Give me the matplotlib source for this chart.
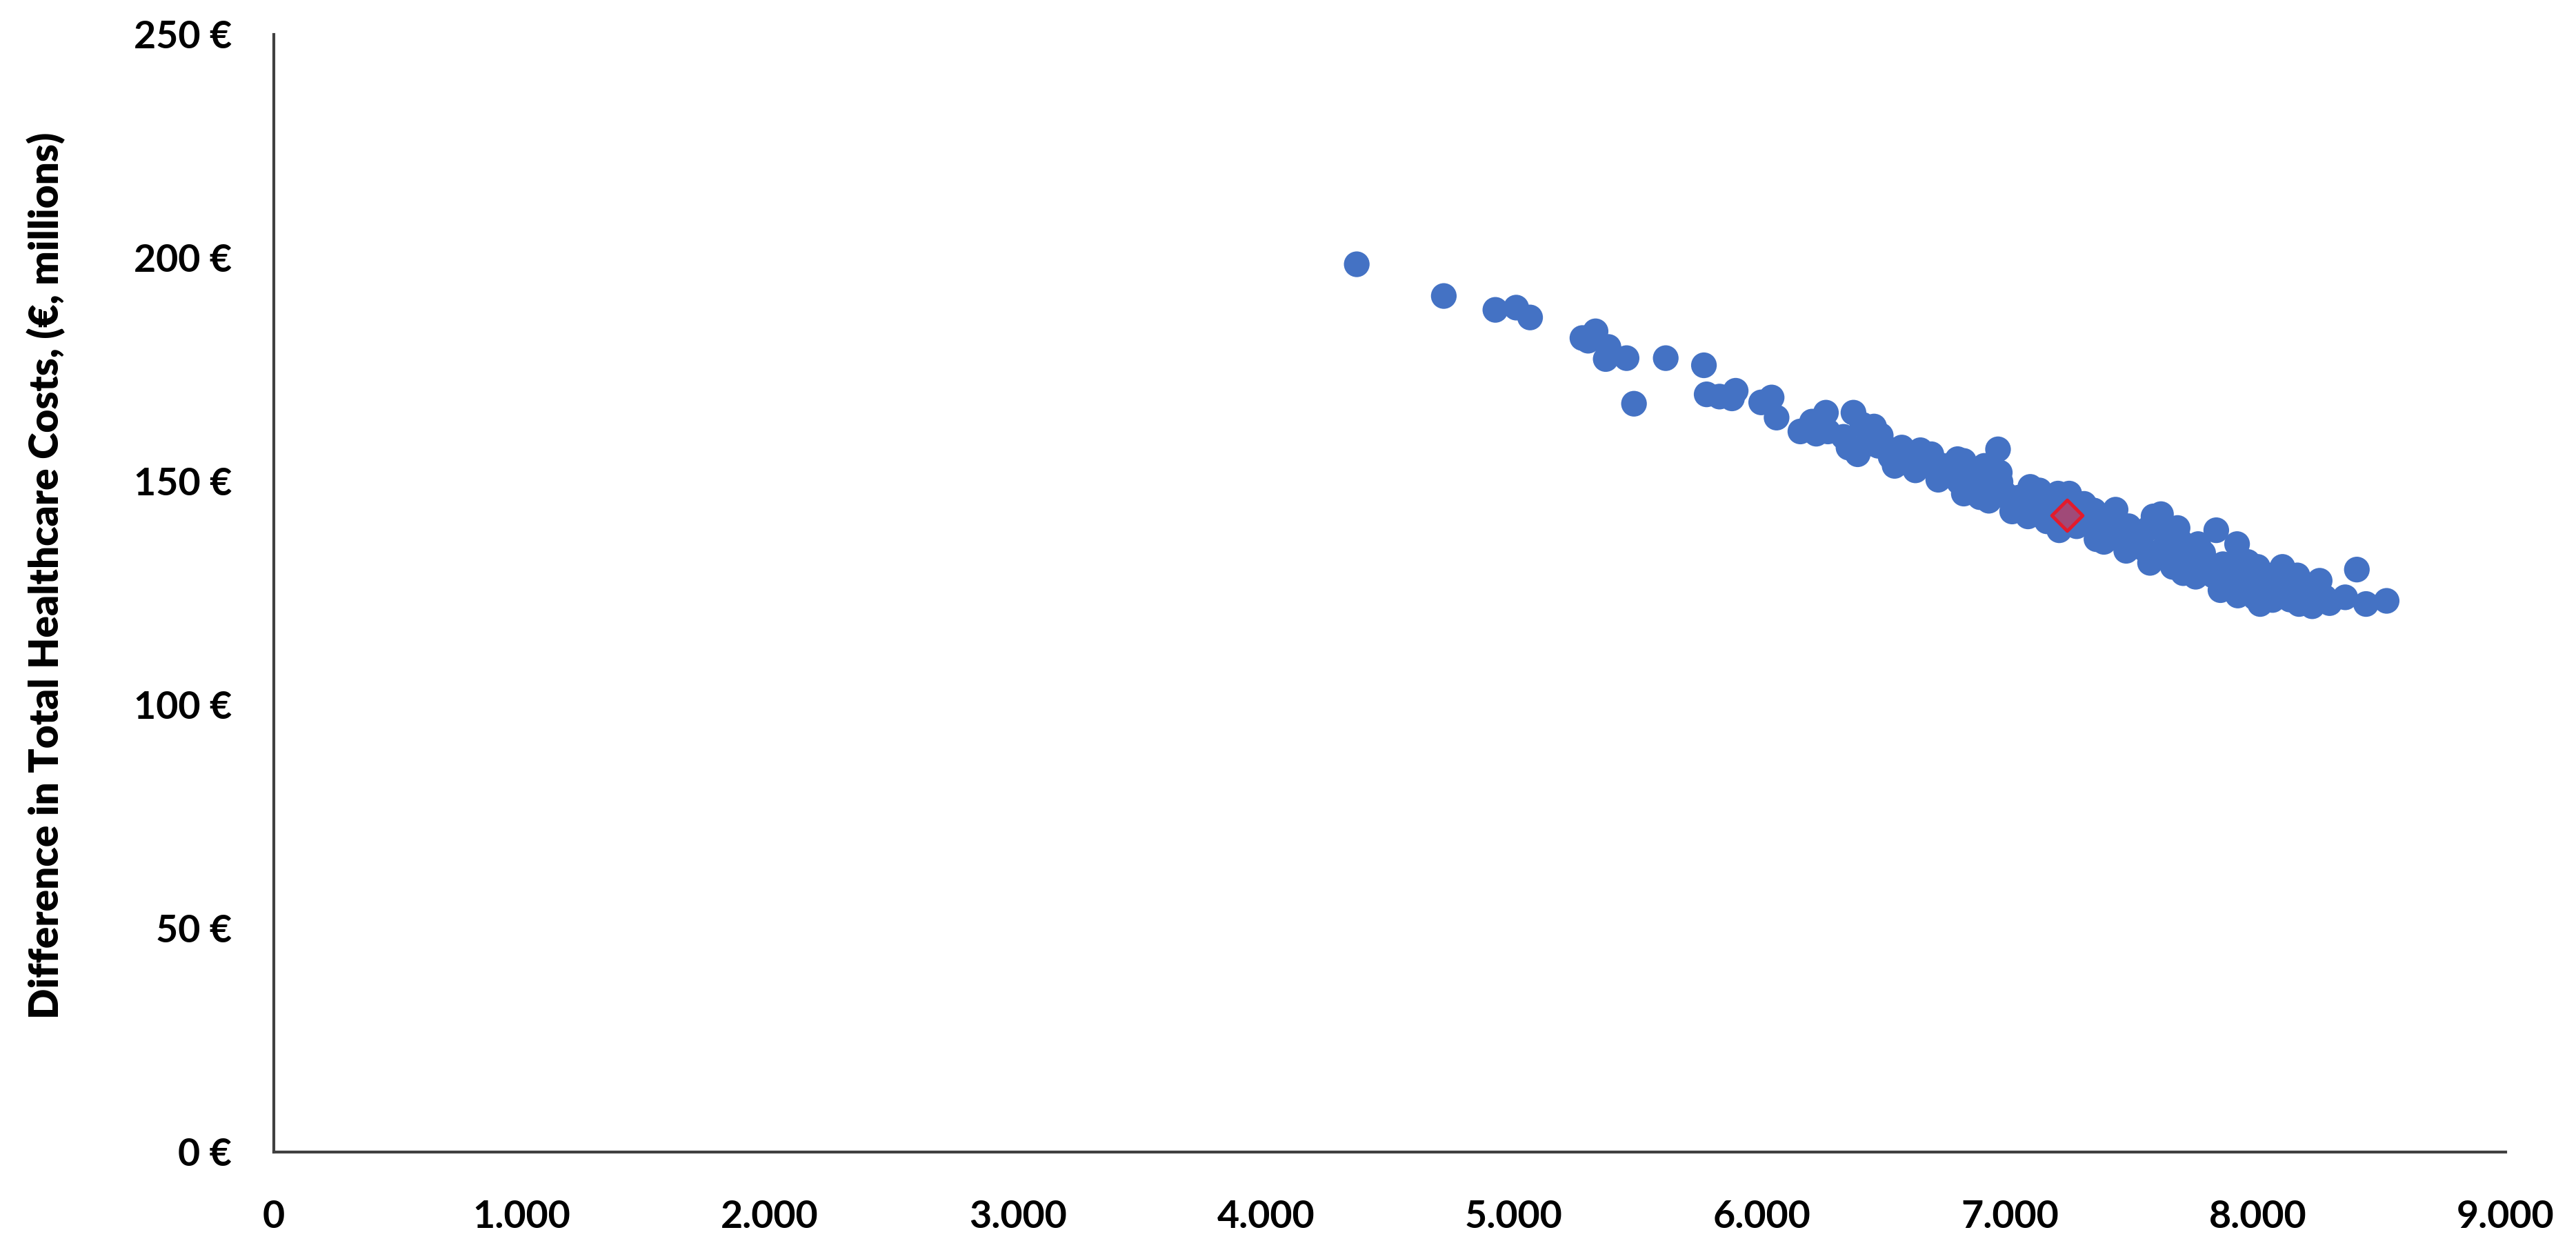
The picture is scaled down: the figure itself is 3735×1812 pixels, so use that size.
import matplotlib
matplotlib.use("Agg")
import matplotlib.pyplot as plt
from matplotlib.ticker import FuncFormatter

# ---- data ----
sim_x = [4367, 4718, 4926, 5010, 5066, 5277, 5330, 5300, 5382, 5371, 5455, 5485, 5613,
         5767, 5778, 5830, 5895, 5880, 5998, 6040, 6060, 6156, 6203, 6259, 6267, 6220,
         6370, 6350, 6406, 6453, 6425, 6387, 6480, 6500, 6545, 6565, 6536, 6610, 6620,
         6665, 6684, 6712, 6730, 6777, 6815, 6815, 6796, 6870, 6898, 6953, 6870, 6916,
         6963, 6980, 7010, 7037, 7083, 7074, 7130, 7150, 7195, 7200, 7220, 7240, 7270,
         7300, 7296, 7350, 7427, 7470, 7520, 7580, 7610, 7566, 7640, 7677, 7658, 7720,
         7750, 7760, 7833, 7797, 7850, 7917, 7890, 7945, 8000, 8010, 7983, 8055, 8100,
         8130, 8120, 8186, 8167, 8250, 8270, 8220, 8400, 8353, 8437, 8520,
         6440, 6590, 6750, 6900, 7050, 7170, 7400, 7500, 7700, 7950, 8070, 7380, 7620,
         6330, 6470, 6520, 6600, 6640, 6700, 6760, 6790, 6850, 6880, 6930, 6960, 7000,
         7060, 7100, 7120, 7160, 7210, 7260, 7320, 7340, 7380, 7420, 7450, 7480, 7540,
         7560, 7600, 7630, 7660, 7690, 7700, 7740, 7780, 7820, 7860, 7880, 7920, 7960,
         7990, 8030, 8060, 8080, 8140, 8160, 8200, 8240, 8290]
sim_y = [198.6, 191.5, 188.4, 188.9, 186.7, 182.1, 183.6, 181.5, 180.1, 177.4, 177.6, 167.4, 177.6,
         176.0, 169.5, 169.0, 170.3, 168.6, 167.7, 168.8, 164.3, 161.2, 163.4, 165.4, 161.2, 160.7,
         165.4, 157.6, 162.7, 162.3, 158.7, 156.1, 160.3, 157.6, 155.0, 157.6, 153.5, 156.1, 152.5,
         155.0, 156.1, 150.4, 153.5, 154.1, 154.6, 147.3, 149.9, 152.5, 153.5, 157.2, 148.4, 145.7,
         149.9, 147.3, 143.3, 146.4, 148.8, 142.2, 146.4, 141.1, 147.3, 139.1, 144.2, 147.3, 140.0,
         145.0, 143.3, 137.1, 143.7, 134.5, 138.0, 142.2, 142.7, 131.8, 137.1, 139.6, 130.9, 134.5,
         128.7, 136.0, 139.1, 131.8, 125.7, 136.0, 130.9, 128.7, 130.9, 122.6, 125.7, 126.7, 130.9,
         123.6, 127.8, 125.7, 122.6, 127.8, 124.1, 122.1, 130.3, 124.1, 122.6, 123.3,
         158.5, 155.5, 152.0, 149.0, 145.5, 143.5, 139.5, 136.5, 133.0, 127.5, 126.0, 140.5, 135.0,
         160.0, 158.0, 155.5, 154.0, 157.0, 153.0, 151.5, 155.0, 150.0, 146.5, 148.0, 152.0, 146.0,
         144.5, 143.0, 148.0, 145.0, 141.5, 145.5, 140.5, 143.5, 136.5, 139.0, 137.0, 140.0, 135.0,
         139.5, 133.5, 140.0, 134.5, 136.5, 129.5, 132.0, 134.0, 129.0, 131.5, 127.0, 124.5, 132.0,
         124.0, 128.0, 123.5, 129.5, 125.5, 129.0, 124.5, 125.0, 122.8]

base_x = [7230]
base_y = [142.5]

x_ticks = [0, 1000, 2000, 3000, 4000, 5000, 6000, 7000, 8000, 9000]
y_ticks = [0, 50, 100, 150, 200, 250]
y_label = "Difference in Total Healthcare Costs, (\u20ac, millions)"

# ---- figure ----
W, H = 3735, 1812
fig = plt.figure(figsize=(W / 100, H / 100), dpi=100)
fig.patch.set_facecolor("white")
ax = fig.add_axes([397 / W, 1 - 1670 / H, (3633 - 397) / W, (1670 - 50) / H])

ax.scatter(sim_x, sim_y, s=720, c="#4472C4", edgecolors="none", zorder=2)
ax.scatter(base_x, base_y, marker="D", s=520, facecolor="#A04A78",
           edgecolor="#E31B2C", linewidths=3.5, zorder=3)

ax.set_xlim(0, 9000)
ax.set_ylim(0, 250)
ax.set_xticks(x_ticks)
ax.set_yticks(y_ticks)
ax.xaxis.set_major_formatter(FuncFormatter(lambda v, p: f"{int(v):,}".replace(",", ".")))
ax.yaxis.set_major_formatter(FuncFormatter(lambda v, p: f"{int(v)} \u20ac"))

for s in ["top", "right"]:
    ax.spines[s].set_visible(False)
for s in ["left", "bottom"]:
    ax.spines[s].set_color("#404040")
    ax.spines[s].set_linewidth(3)

ax.tick_params(axis="both", length=0, labelsize=40, labelcolor="black")
ax.tick_params(axis="y", pad=44)
ax.tick_params(axis="x", pad=50)
for lab in ax.get_xticklabels() + ax.get_yticklabels():
    lab.set_fontfamily(["Lato", "DejaVu Sans"])
    lab.set_fontweight("bold")

fig.text(67 / W, 1 - 834 / H, y_label, rotation=90, ha="center", va="center",
         fontsize=42, fontweight="heavy", family=["Lato", "DejaVu Sans"])

fig.savefig("out.png", dpi=100, facecolor="white")
